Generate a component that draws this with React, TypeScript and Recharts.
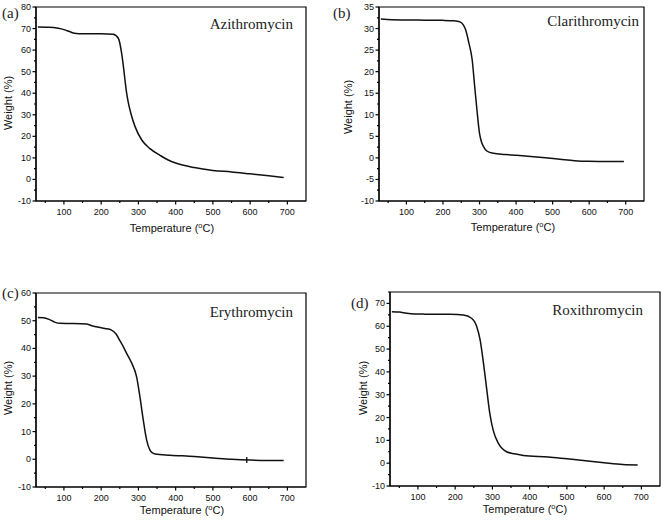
import React from 'react';
import { LineChart, Line, XAxis, YAxis, ReferenceArea, ReferenceDot } from 'recharts';

// temperatures (°C) and weight (%)
const azithroTemp = [30, 60, 85, 100, 115, 128, 140, 200, 232, 246, 255, 260, 264, 268, 273, 280, 291, 309, 331, 358, 380, 400, 450, 500, 550, 600, 650, 690];
const azithroWeight = [70.7, 70.6, 70.1, 69.5, 68.6, 67.8, 67.6, 67.6, 67.4, 65.5, 58.5, 52, 46, 40.5, 35.5, 30.5, 24.5, 18.3, 14.3, 11.2, 9, 7.6, 5.5, 4.2, 3.5, 2.6, 1.7, 0.9];

const clarithroTemp = [30, 60, 100, 150, 200, 230, 248, 256, 262, 271, 280, 286, 293, 300, 305, 311, 320, 338, 370, 400, 440, 480, 520, 560, 600, 650, 695];
const clarithroWeight = [32.2, 32.05, 32.0, 31.95, 31.9, 31.8, 31.5, 30.8, 29.7, 26.6, 22.7, 17.3, 11.1, 5.7, 3.8, 2.6, 1.6, 1.05, 0.8, 0.6, 0.35, 0.05, -0.3, -0.65, -0.8, -0.85, -0.85];

const erythroTemp = [30, 45, 60, 75, 90, 120, 160, 175, 190, 210, 228, 240, 251, 260, 268, 282, 295, 304, 313, 322, 331, 338, 345, 385, 450, 500, 550, 600, 650, 690];
const erythroWeight = [51.2, 51.1, 50.5, 49.5, 49.05, 49, 48.8, 48.2, 47.7, 47.2, 46.6, 45.2, 42.6, 40.5, 38.3, 34.7, 29.8, 22.6, 14.2, 7.0, 3.3, 2.3, 1.9, 1.5, 1.0, 0.5, 0.0, -0.3, -0.4, -0.4];
const erythroMark = [591, -0.3];

const roxithroTemp = [30, 50, 70, 90, 120, 186, 222, 244, 258, 267, 276, 285, 293, 302, 316, 327, 338, 360, 383, 450, 500, 550, 600, 650, 690];
const roxithroWeight = [66.4, 66.2, 65.7, 65.4, 65.3, 65.2, 64.9, 63.5, 59.8, 54, 43.8, 32, 21.8, 14.5, 8.7, 6.3, 5.0, 4.1, 3.4, 2.7, 1.9, 1.1, 0.2, -0.6, -0.8];

const xMajor = [100, 200, 300, 400, 500, 600, 700];
const xMinor = [50, 150, 250, 350, 450, 550, 650];
const azithroYTicks = [-10, 0, 10, 20, 30, 40, 50, 60, 70, 80];
const clarithroYTicks = [-10, -5, 0, 5, 10, 15, 20, 25, 30, 35];
const erythroYTicks = [-10, 0, 10, 20, 30, 40, 50, 60];
const roxithroYTicks = [-10, 0, 10, 20, 30, 40, 50, 60, 70];

const SANS = '"Liberation Sans", Arial, sans-serif';
const SERIF = '"Liberation Serif", "Times New Roman", serif';

type PanelProps = {
  left: number; top: number; width: number; height: number;
  plot: { l: number; t: number; r: number; b: number };
  temp: number[]; weight: number[];
  yDomain: [number, number]; yTicks: number[];
  mark?: number[];
};

function Panel({ left, top, width, height, plot, temp, weight, yDomain, yTicks, mark }: PanelProps) {
  const data = temp.map((t, i) => ({ t, w: weight[i] }));
  const step = yTicks[1] - yTicks[0];
  const yMinor = yTicks.map(v => v + step / 2).filter(v => v <= yDomain[1]);
  const yAll = [...yTicks, ...yMinor].sort((a, b) => a - b);
  const xAll = [...xMajor, ...xMinor].sort((a, b) => a - b);

  const xTick = (p: any) => {
    const major = xMajor.includes(p.payload.value);
    return (
      <g>
        <line x1={p.x} x2={p.x} y1={plot.b} y2={plot.b + (major ? 3.5 : 2)} stroke="#000" strokeWidth={1.2} />
        {major && (
          <text x={p.x} y={plot.b + 14} textAnchor="middle" fontSize={9} fontFamily={SANS} fill="#111">{p.payload.value}</text>
        )}
      </g>
    );
  };

  const yTick = (p: any) => {
    const major = yTicks.includes(p.payload.value);
    return (
      <g>
        <line x1={plot.l} x2={plot.l - (major ? 3.5 : 2)} y1={p.y} y2={p.y} stroke="#000" strokeWidth={1.2} />
        {major && (
          <text x={plot.l - 5} y={p.y + 3} textAnchor="end" fontSize={9} fontFamily={SANS} fill="#111">{p.payload.value}</text>
        )}
      </g>
    );
  };

  return (
    <div style={{ position: 'absolute', left, top }}>
      <LineChart
        width={width}
        height={height}
        data={data}
        margin={{ top: plot.t, right: width - plot.r, left: 0, bottom: height - plot.b - 20 }}
      >
        <XAxis dataKey="t" type="number" domain={[25, 750]} ticks={xAll} interval={0} allowDataOverflow
          height={20} tickLine={false} axisLine={{ stroke: '#000', strokeWidth: 1.2 }} tick={xTick} />
        <YAxis type="number" domain={yDomain} ticks={yAll} interval={0} allowDataOverflow
          width={plot.l} tickLine={false} axisLine={{ stroke: '#000', strokeWidth: 1.2 }} tick={yTick} />
        <ReferenceArea x1={25} x2={750} y1={yDomain[0]} y2={yDomain[1]} fill="none" stroke="#000" strokeWidth={1.2} />
        <Line dataKey="w" type="monotone" stroke="#111" strokeWidth={1.5} dot={false} isAnimationActive={false} />
        {mark && (
          <ReferenceDot x={mark[0]} y={mark[1]} r={3}
            shape={(s: any) => <line x1={s.cx} x2={s.cx} y1={s.cy - 3} y2={s.cy + 3} stroke="#111" strokeWidth={1.3} />} />
        )}
      </LineChart>
    </div>
  );
}

function TempLabel({ x, y }: { x: number; y: number }) {
  return (
    <text x={x} y={y + 4} textAnchor="middle" fontSize={11} fontFamily={SANS} fill="#111">
      <tspan>Temperature (</tspan>
      <tspan dy={-4} fontSize={7.5}>o</tspan>
      <tspan dy={4}>C)</tspan>
    </text>
  );
}

function WeightLabel({ x, y }: { x: number; y: number }) {
  return (
    <text x={x} y={y} transform={`rotate(-90 ${x} ${y})`} dy={4} textAnchor="middle" fontSize={11} fontFamily={SANS} fill="#111">
      Weight (%)
    </text>
  );
}

function Tag({ x, y, text, anchor = 'start' }: { x: number; y: number; text: string; anchor?: string }) {
  return (
    <text x={x} y={y + 5} textAnchor={anchor as any} fontSize={15} fontFamily={SERIF} fill="#222">{text}</text>
  );
}

export default function App() {
  return (
    <div style={{ position: 'absolute', left: 0, top: 0, width: 662, height: 520, background: '#fff', overflow: 'hidden' }}>
      <Panel left={0} top={0} width={330} height={260} plot={{ l: 36, t: 7, r: 306, b: 201 }}
        temp={azithroTemp} weight={azithroWeight} yDomain={[-10, 80]} yTicks={azithroYTicks} />
      <Panel left={330} top={0} width={332} height={260} plot={{ l: 49, t: 7, r: 314, b: 201 }}
        temp={clarithroTemp} weight={clarithroWeight} yDomain={[-10, 35]} yTicks={clarithroYTicks} />
      <Panel left={0} top={260} width={330} height={260} plot={{ l: 36, t: 33, r: 306, b: 227 }}
        temp={erythroTemp} weight={erythroWeight} yDomain={[-10, 60]} yTicks={erythroYTicks} mark={erythroMark} />
      <Panel left={330} top={260} width={332} height={260} plot={{ l: 60, t: 32, r: 330, b: 226 }}
        temp={roxithroTemp} weight={roxithroWeight} yDomain={[-10, 75]} yTicks={roxithroYTicks} />

      <svg width={662} height={520} style={{ position: 'absolute', left: 0, top: 0, pointerEvents: 'none' }}>
        <Tag x={2} y={13} text="(a)" />
        <Tag x={293} y={24} text="Azithromycin" anchor="end" />
        <WeightLabel x={8} y={103} />
        <TempLabel x={172} y={228} />

        <Tag x={333} y={13} text="(b)" />
        <Tag x={639} y={21} text="Clarithromycin" anchor="end" />
        <WeightLabel x={348} y={107} />
        <TempLabel x={513} y={227} />

        <Tag x={2} y={293} text="(c)" />
        <Tag x={293} y={312} text="Erythromycin" anchor="end" />
        <WeightLabel x={8} y={388} />
        <TempLabel x={182} y={510} />

        <Tag x={351} y={303} text="(d)" />
        <Tag x={643} y={310} text="Roxithromycin" anchor="end" />
        <WeightLabel x={363} y={388} />
        <TempLabel x={525} y={509} />
      </svg>
    </div>
  );
}
